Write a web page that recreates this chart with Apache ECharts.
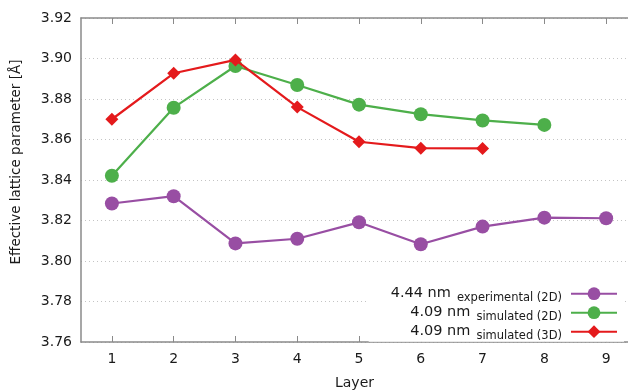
<!DOCTYPE html>
<html>
<head>
<meta charset="utf-8">
<style>
  html, body { margin: 0; padding: 0; background: #ffffff; }
  #chart { width: 628px; height: 392px; }
</style>
<script src="https://cdn.jsdelivr.net/npm/echarts@6/dist/echarts.min.js"></script>
</head>
<body>
<div id="chart"></div>
<script>
// Layer index along the film
const layers = [1, 2, 3, 4, 5, 6, 7, 8, 9];

// Effective lattice parameter per layer, in Å
const experimental2D = [3.8284, 3.8320, 3.8087, 3.8110, 3.8191, 3.8083, 3.8170, 3.8214, 3.8211];
const simulated2D = [3.8421, 3.8757, 3.8963, 3.8869, 3.8772, 3.8725, 3.8694, 3.8672];
const simulated3D = [3.8700, 3.8927, 3.8993, 3.8760, 3.8589, 3.8557, 3.8556];

// Legend wording: thickness + data source
const thickness = ['4.44 nm', '4.09 nm', '4.09 nm'];
const source = ['experimental (2D)', 'simulated (2D)', 'simulated (3D)'];
const seriesNames = thickness.map((t, i) => t + ' ' + source[i]);

const colors = ['#984ea3', '#4daf4a', '#e41a1c'];
const FONT = 'DejaVu Sans';
const AXIS_GRAY = '#8a8a8a';
const TEXT = '#1a1a1a';

// The layer axis spans half a layer before 1; its right end is cut by the page edge.
const X_MIN = 0.5;
const X_MAX = 9.354;

const chart = echarts.init(document.getElementById('chart'), null, { renderer: 'canvas' });

function lineSeries(idx, values, symbol, size) {
  return {
    name: seriesNames[idx],
    type: 'line',
    data: values.map((v, i) => [layers[i], v]),
    symbol: symbol,
    symbolSize: size,
    showSymbol: true,
    color: colors[idx],
    lineStyle: { width: 2.2, color: colors[idx] },
    itemStyle: { color: colors[idx] },
    emphasis: { disabled: true },
    z: 3 + idx
  };
}

function layerAxis(position, withLabels) {
  return {
    type: 'value',
    min: X_MIN,
    max: X_MAX,
    position: position,
    axisLine: { show: true, onZero: false, lineStyle: { color: AXIS_GRAY, width: 1.5 } },
    axisTick: { show: true, inside: true, length: 6, customValues: layers,
                lineStyle: { color: AXIS_GRAY, width: 1 } },
    axisLabel: withLabels
      ? { show: true, margin: 10, fontFamily: FONT, fontSize: 14, color: TEXT, customValues: layers }
      : { show: false },
    splitLine: { show: false }
  };
}

const bottomAxis = Object.assign(layerAxis('bottom', true), {
  name: 'Layer',
  nameLocation: 'middle',
  nameGap: 34,
  nameTextStyle: { fontFamily: FONT, fontSize: 14, color: TEXT }
});

chart.setOption({
  animation: false,
  backgroundColor: '#ffffff',
  textStyle: { fontFamily: FONT },
  grid: { left: 81, top: 18, right: 0, bottom: 50, containLabel: false, outerBoundsMode: 'none' },
  xAxis: [bottomAxis, layerAxis('top', false)],
  yAxis: {
    type: 'value',
    min: 3.76,
    max: 3.92,
    interval: 0.02,
    name: 'Effective lattice parameter [Å]',
    nameLocation: 'middle',
    nameGap: 58,
    nameRotate: 90,
    nameTextStyle: { fontFamily: FONT, fontSize: 13.5, color: TEXT, padding: [0, 0, 0, 36] },
    axisLine: { show: true, lineStyle: { color: AXIS_GRAY, width: 1.5 } },
    axisTick: { show: false },
    axisLabel: {
      margin: 9, fontFamily: FONT, fontSize: 14, color: TEXT,
      formatter: v => v.toFixed(2)
    },
    splitLine: { show: true, lineStyle: { color: '#c4c4c4', width: 1, type: [1, 3] } }
  },
  legend: {
    show: true,
    orient: 'vertical',
    align: 'right',
    right: 4,
    top: 281.7,
    padding: [2, 6, 0, 22],
    itemGap: -1,
    itemWidth: 46,
    itemHeight: 16,
    backgroundColor: '#ffffff',
    selectedMode: false,
    data: seriesNames,
    formatter: function (name) {
      const i = seriesNames.indexOf(name);
      return '{a|' + thickness[i] + '}{b|' + source[i] + '}';
    },
    textStyle: {
      fontFamily: FONT,
      color: TEXT,
      rich: {
        a: { fontFamily: FONT, fontSize: 14.5, color: TEXT, lineHeight: 16, padding: [1, 6, 1, 0] },
        b: { fontFamily: FONT, fontSize: 11.5, color: TEXT, lineHeight: 10, padding: [8, 4, 0, 0] }
      }
    }
  },
  series: [
    lineSeries(0, experimental2D, 'circle', 14),
    lineSeries(1, simulated2D, 'circle', 14),
    lineSeries(2, simulated3D, 'diamond', 13)
  ]
});
</script>
</body>
</html>
